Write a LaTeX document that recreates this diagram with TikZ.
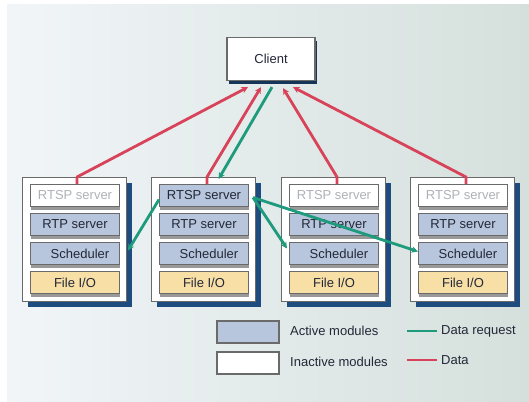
\documentclass[tikz,border=0pt]{standalone}
\usepackage{fontspec}
\setmainfont{Liberation Sans}
\usetikzlibrary{arrows.meta,shadows,calc}

\definecolor{bgL}{HTML}{F1F5F8}
\definecolor{bgR}{HTML}{D5E0DC}
\definecolor{activeM}{HTML}{B7C6DC}
\definecolor{fileM}{HTML}{F8DFA6}
\definecolor{shadowB}{HTML}{1E4C7E}
\definecolor{dataRed}{HTML}{D8435A}
\definecolor{reqGreen}{HTML}{1E9A7C}
\definecolor{frameG}{HTML}{6A6A6A}
\definecolor{txtD}{HTML}{232838}
\definecolor{txtL}{HTML}{AEB2B6}

\begin{document}
\begin{tikzpicture}[x=1pt,y=-1pt,
  font=\fontsize{13}{15}\selectfont,
  hostbox/.style={draw=frameG, line width=1.2pt, fill=white,
    minimum width=104pt, minimum height=124pt, anchor=north west, inner sep=0pt,
    general shadow={fill=shadowB, shadow xshift=5pt, shadow yshift=-5pt}},
  clientbox/.style={draw=frameG, line width=1.2pt, fill=white, text=txtD,
    minimum width=88pt, minimum height=43pt, inner sep=0pt,
    general shadow={fill=shadowB!70!black, shadow xshift=2pt, shadow yshift=-4pt}},
  module/.style={draw=frameG, line width=1pt, minimum width=89pt, minimum height=22pt,
    anchor=north west, inner sep=0pt, text=txtD,
    general shadow={fill=gray!80, shadow yshift=-3pt}},
  active/.style={module, fill=activeM},
  inactive/.style={module, fill=white, text=txtL},
  fileio/.style={module, fill=fileM},
  swatch/.style={draw=frameG, line width=1.8pt, minimum width=62pt, minimum height=22pt,
    anchor=north west, inner sep=0pt},
  legendtext/.style={anchor=west, inner sep=0pt, text=txtD},
  data/.style={draw=dataRed, line width=2.8pt, line join=round,
    -{Stealth[length=6.5pt,width=6.5pt]}},
  request/.style={draw=reqGreen, line width=2.8pt, line join=round,
    -{Stealth[length=6.5pt,width=6.5pt]}},
  keyline/.style={line width=2.8pt},
]
\useasboundingbox (0,0) rectangle (529,401);

% backdrop
\fill[white] (0,0) rectangle (529,401);
\shade[left color=bgL, right color=bgR] (7,5) rectangle (529,401);

% client
\node[clientbox] (client) at (271,59) {Client};

% four server hosts with their module stacks
\foreach \i/\x/\rt in {1/22/inactive, 2/151/active, 3/281/inactive, 4/410/inactive} {
  \node[hostbox] (s\i) at (\x,177) {};
  \node[\rt]     (s\i r)   at (\x+8,184) {RTSP server};
  \node[active]  (s\i rtp) at (\x+8,213) {RTP server};
  \node[active]  (s\i sch) at (\x+8,242) {\hspace*{10pt}Scheduler};
  \node[fileio]  (s\i fio) at (\x+8,271) {File I/O};
}

% data flowing from each host up to the client
\draw[data] ([xshift=2pt]s1r.north) -- ([xshift=2pt]s1r.north |- s1.north)
  -- ($(client.south)+(-23,6)$);
\draw[data] ([xshift=3pt]s2r.north) -- ([xshift=3pt]s2r.north |- s2.north)
  -- ($(client.south)+(-10,6)$);
\draw[data] ([xshift=3pt]s3r.north) -- ([xshift=3pt]s3r.north |- s3.north)
  -- ($(client.south)+(12,7)$);
\draw[data] ([xshift=3pt]s4r.north) -- ([xshift=3pt]s4r.north |- s4.north)
  -- ($(client.south)+(22,6)$);

% data requests: client to active RTSP server, then on to the schedulers
\draw[request] ($(client.south)+(1,6)$) -- ([xshift=15pt,yshift=-2pt]s2.north);
\draw[request] ([yshift=-4pt]s2r.west) -- ([xshift=8pt,yshift=3pt]s1sch.east);
\draw[request] ([xshift=4pt,yshift=-2pt]s2r.east) -- ([xshift=-2pt,yshift=5pt]s3sch.west);
\draw[request] ([xshift=4pt,yshift=-2pt]s2r.east) -- ([yshift=2pt]s4sch.west);

% legend
\node[swatch, fill=activeM] (keyA) at (216,320) {};
\node[swatch, fill=white]   (keyI) at (216,351) {};
\node[legendtext] (keyAt) at (290,331) {Active modules};
\node[legendtext] (keyIt) at (290,362) {Inactive modules};
\node[legendtext] (keyRt) at (441,331) {Data request};
\node[legendtext] (keyDt) at (441,360) {Data};
\draw[keyline, reqGreen] ([xshift=-4pt]keyRt.west) -- ++(-30,0);
\draw[keyline, dataRed]  ([xshift=-4pt]keyDt.west) -- ++(-30,0);
\end{tikzpicture}
\end{document}
